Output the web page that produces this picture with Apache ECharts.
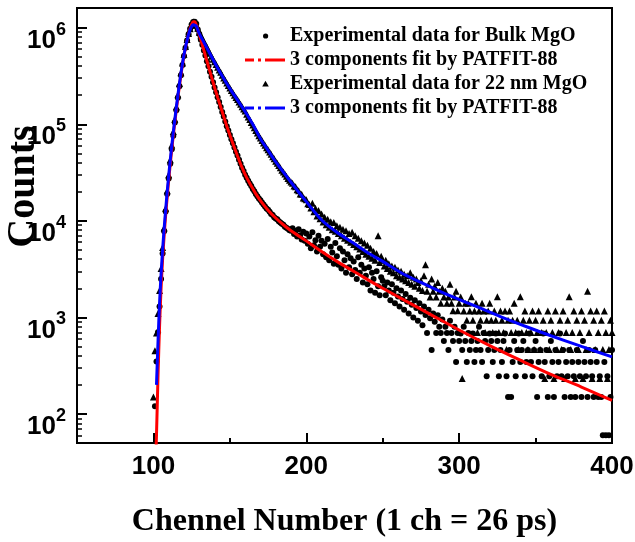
<!DOCTYPE html>
<html><head><meta charset="utf-8">
<script src="https://cdn.jsdelivr.net/npm/echarts@6/dist/echarts.min.js"></script>
<style>html,body{margin:0;padding:0;background:#fff}#c{width:635px;height:542px}</style>
</head><body><div id="c"></div>
<script>
// ---- data ----
const bulkStartChannel = 100;
const bulkCounts = [
45,120,350,700,1300,2500,4600,7800,12500,19000,
27500,39000,55000,76000,104000,140000,188000,248000,322000,410000,
510000,620000,735000,855000,975000,1080000,1145000,1150000,1100000,960000,
860000,750000,665000,580000,515000,450000,400000,350000,310000,272000,
240000,214000,190000,170000,151000,134000,120000,107000,95500,86000,
77600,70000,63500,57500,52000,47500,43000,39000,35500,32800,
30000,28000,26000,24300,23000,21300,20200,19000,18000,17000,
16300,15500,14800,14100,13400,13000,12400,11800,11500,10900,
10600,10400,9900,9600,9300,9100,8700,8500,8300,8000,
7900,8400,7300,7900,6900,8200,7100,6400,7700,6200,
7400,5800,6900,5200,7600,5600,6300,4800,7000,5400,
6200,4500,5800,4200,6500,3900,5400,4700,3600,5900,
4300,3500,5200,3200,4800,3900,2900,4500,3300,4100,
2800,3800,3100,2500,4200,2900,3500,2300,3200,2700,
2200,3300,1900,2900,2500,1800,3000,2100,1700,2600,
2400,2100,1700,2300,1900,1500,2200,1800,1400,2000,
1650,1300,1900,1550,1200,1750,1450,1100,1600,1350,
1000,1500,1250,920,1400,1150,830,1300,1060,690,
1200,980,460,1100,900,690,1050,800,690,950,
570,800,690,460,920,690,570,800,345,690,
570,680,460,800,570,345,690,460,570,680,
345,460,570,800,460,345,690,570,245,460,
680,570,345,460,680,570,245,460,345,570,
680,245,150,460,150,345,570,245,460,680,
345,460,570,245,345,460,680,345,245,460,
570,150,345,460,245,680,345,460,150,245,
570,345,150,460,245,345,680,245,460,150,
345,245,460,150,345,245,150,460,345,245,
150,570,345,245,150,460,345,245,150,460,
345,150,245,150,60,345,60,245,60,150,
460
];
const nanoStartChannel = 100;
const nanoCounts = [
150,450,690,1100,1900,3200,5300,8500,13500,20500,
30000,43000,61000,84000,113000,152000,202000,265000,342000,430000,
530000,640000,755000,870000,975000,1060000,1150000,1100000,1060000,990000,
900000,840000,780000,725000,675000,630000,585000,545000,505000,470000,
445000,415000,390000,365000,345000,322000,302000,285000,267000,252000,
238000,224000,212000,200000,189000,180000,170000,161000,152000,144000,
137000,127000,119000,112000,104000,98000,92000,86000,81000,76000,
72000,68000,64000,60500,57000,54500,51500,49000,46000,44000,
41500,39500,37500,35500,33500,32000,30500,29000,27500,26300,
25300,24500,23000,22500,21000,20500,19000,18800,17200,16900,
16500,15000,14800,13600,15200,12400,13500,11200,12800,10500,
11800,9700,10900,9100,10400,8600,9800,8100,9600,7800,
8900,7400,8600,7000,8200,6600,7900,6300,7400,6000,
7600,5700,7000,5400,6600,5100,6200,4800,5900,4500,
5600,4300,5200,4100,4800,3900,4600,7000,3700,4300,
3900,3400,3900,3200,3600,3000,3400,2900,3300,2700,
3100,2600,3000,2500,2800,2400,2700,2300,2900,2200,
2600,2100,2500,2300,2000,2400,1900,2700,3500,1870,
2200,1630,2500,1870,2100,1630,2300,1870,1400,2000,
1630,1870,1400,1630,2200,1400,1170,1630,1870,1170,
1400,1630,233,1165,1400,932,1398,1165,1631,932,
1165,1398,699,1165,932,1398,1165,699,932,1165,
1398,932,699,1165,932,1631,699,1165,932,699,
1165,466,932,1165,699,932,1398,699,932,466,
1631,699,932,1165,699,466,932,699,1165,466,
932,699,1165,466,699,932,233,699,1165,466,
932,699,233,1165,466,699,932,466,1165,233,
699,932,1631,466,699,1165,233,932,466,699,
1165,233,932,466,1864,699,1165,233,932,466,
1165,699,233,932,466,1165,699,233,466,932,
699
];
const redFitChannels = [101,102,103,104,105,106,107,108,109,110,111,112,113,114,115,116,117,118,119,120,121,122,123,124,125,126,127,128,130,132,134,136,138,140,142,144,146,148,150,152,155,158,161,164,167,170,175,180,185,190,200,210,220,235,250,265,280,300,320,340,360,380,400];
const redFitCounts = [20,60,250,800,2000,4000,7000,11500,17500,26500,38500,55000,77000,105000,142000,189000,249000,324000,414000,514000,624000,740000,860000,980000,1080000,1150000,1150000,1070000,851000,661000,513000,398000,309000,240000,190000,151000,120000,95500,77600,63000,47000,35500,28000,23000,19000,16200,12900,10700,9100,7900,6200,4800,3800,2750,2000,1480,1100,740,510,360,257,190,138];
const blueFitChannels = [102,103,104,105,106,107,108,109,110,111,112,113,114,115,116,117,118,119,120,121,122,123,124,125,126,127,128,130,133,136,140,145,150,155,160,165,170,175,180,190,200,210,220,230,240,250,262,275,290,310,327,345,360,380,400];
const blueFitCounts = [200,560,1400,2800,5000,8300,13000,20000,29500,42500,60000,83000,112000,151000,200000,263000,339000,427000,525000,631000,741000,851000,955000,1030000,1070000,1060000,1040000,870000,708000,575000,437000,316000,234000,178000,135000,100000,70800,53700,40700,25100,15800,10200,7600,6000,4700,3800,2900,2300,1780,1320,1020,790,645,500,390];

const seriesNames = ['Experimental data for Bulk MgO', '3 components fit by PATFIT-88', 'Experimental data for 22 nm MgO', '3 components fit by PATFIT-88 '];
const xTickLabels = [100, 200, 300, 400];
const xMinorTicks = [150, 250, 350];
const yTickExponents = [2, 3, 4, 5, 6];
const xTitle = 'Chennel Number (1 ch = 26 ps)';
const yTitle = 'Counts';

// ---- build ----
const bulkData = bulkCounts.map((v, i) => [bulkStartChannel + i, v]);
const nanoData = nanoCounts.map((v, i) => [nanoStartChannel + i, v]);
const redData = redFitChannels.map((c, i) => [c, redFitCounts[i]]);
const blueData = blueFitChannels.map((c, i) => [c, blueFitCounts[i]]);
const yMajor = yTickExponents.map(e => Math.pow(10, e));
const yMinor = [];
for (let e = 1; e <= 6; e++) for (let k = 2; k <= 9; k++) yMinor.push(k * Math.pow(10, e));

const frame = 'M0,0L0,0M40,14L40,14';
const dotIcon = 'path://' + frame + 'M18,7A2.6,2.6,0,1,1,23.2,7A2.6,2.6,0,1,1,18,7Z';
const triIcon = 'path://' + frame + 'M20.5,3.8L23.8,9.6L17.2,9.6Z';
const dashDotIcon = 'path://' + frame + 'M0,5.6H9V8.4H0Z M13,5.6H16V8.4H13Z M20,5.6H40V8.4H20Z';

const chart = echarts.init(document.getElementById('c'), null, {renderer: 'canvas'});
const axisCol = '#000';
chart.setOption({
  animation: false,
  backgroundColor: '#fff',
  grid: {left: 77, right: 23, top: 8, bottom: 99, outerBoundsMode: 'none', containLabel: false, show: true, borderColor: axisCol, borderWidth: 2, backgroundColor: 'transparent'},
  legend: {
    orient: 'vertical', left: 240, top: 21, itemWidth: 40, itemHeight: 14, itemGap: 4,
    textStyle: {fontFamily: 'Liberation Serif', fontWeight: 'bold', fontSize: 20, color: '#000', lineHeight: 20},
    data: [
      {name: seriesNames[0], icon: dotIcon, itemStyle: {color: '#000', opacity: 1}},
      {name: seriesNames[1], icon: dashDotIcon, itemStyle: {color: '#ff0000'}},
      {name: seriesNames[2], icon: triIcon, itemStyle: {color: '#000', opacity: 1}},
      {name: seriesNames[3], icon: dashDotIcon, itemStyle: {color: '#0000ff'}}
    ]
  },
  xAxis: [{
    type: 'value', min: 50, max: 400,
    axisLine: {lineStyle: {color: axisCol, width: 2}},
    axisTick: {inside: true, length: 10, customValues: xTickLabels, lineStyle: {color: axisCol, width: 2}},
    axisLabel: {customValues: xTickLabels, fontFamily: 'Liberation Sans', fontWeight: 'bold', fontSize: 26, color: '#000', margin: 11},
    splitLine: {show: false},
    name: xTitle, nameLocation: 'middle', nameGap: 63, nameMoveOverlap: false,
    nameTextStyle: {fontFamily: 'Liberation Serif', fontWeight: 'bold', fontSize: 32, color: '#000'}
  }, {
    type: 'value', min: 50, max: 400, position: 'bottom',
    axisLine: {show: false},
    axisTick: {inside: true, length: 5, customValues: xMinorTicks, lineStyle: {color: axisCol, width: 2}},
    axisLabel: {show: false}, splitLine: {show: false}
  }],
  yAxis: [{
    type: 'log', logBase: 10, min: 50, max: 1.6e6,
    axisLine: {lineStyle: {color: axisCol, width: 2}},
    axisTick: {inside: true, length: 10, customValues: yMajor, lineStyle: {color: axisCol, width: 2}},
    axisLabel: {
      customValues: yMajor, margin: 11, padding: [19, 0, 0, 0],
      formatter: v => '{b|10}{s|' + yTickExponents[yMajor.indexOf(v)] + '}',
      rich: {
        b: {fontFamily: 'Liberation Sans', fontWeight: 'bold', fontSize: 26, color: '#000', lineHeight: 33, verticalAlign: 'bottom'},
        s: {fontFamily: 'Liberation Sans', fontWeight: 'bold', fontSize: 18, color: '#000', verticalAlign: 'top'}
      }
    },
    splitLine: {show: false},
    name: yTitle, nameLocation: 'middle', nameGap: 33, nameRotate: 90, nameMoveOverlap: false,
    nameTextStyle: {fontFamily: 'Liberation Serif', fontWeight: 'bold', fontSize: 40, color: '#000', padding: [0, 0, 0, 78]}
  }, {
    type: 'log', logBase: 10, min: 50, max: 1.6e6, position: 'left',
    axisLine: {show: false},
    axisTick: {inside: true, length: 5, customValues: yMinor, lineStyle: {color: axisCol, width: 1.5}},
    axisLabel: {show: false}, splitLine: {show: false}
  }],
  series: [
    {name: seriesNames[0], type: 'scatter', data: bulkData, symbol: 'circle', symbolSize: 6, itemStyle: {color: '#000', opacity: 1}, z: 2, clip: true},
    {name: seriesNames[1], type: 'line', data: redData, showSymbol: false, symbol: 'none', smooth: 0.3, lineStyle: {color: '#ff0000', width: 3}, itemStyle: {color: '#ff0000'}, z: 4, clip: true},
    {name: seriesNames[2], type: 'scatter', data: nanoData, symbol: 'triangle', symbolSize: 7, itemStyle: {color: '#000', opacity: 1}, z: 3, clip: true},
    {name: seriesNames[3], type: 'line', data: blueData, showSymbol: false, symbol: 'none', smooth: 0.3, lineStyle: {color: '#0000ff', width: 3}, itemStyle: {color: '#0000ff'}, z: 5, clip: true}
  ]
});
</script>
</body></html>
